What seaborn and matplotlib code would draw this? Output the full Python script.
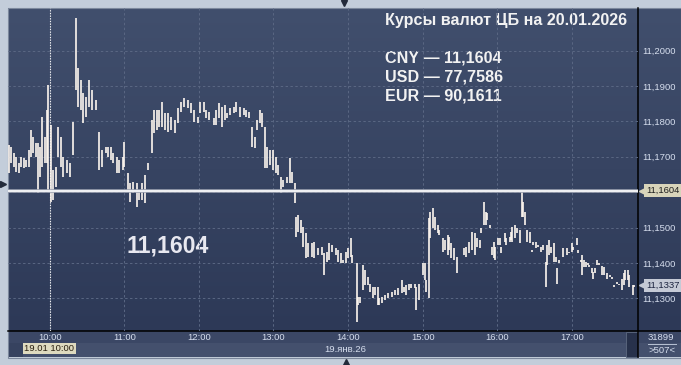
import numpy as np
import pandas as pd
import matplotlib
matplotlib.use("Agg")
import matplotlib.pyplot as plt
from matplotlib.patches import Rectangle
import matplotlib.colors as mcolors
import seaborn as sns

plt.rcParams['font.family'] = ['Liberation Sans', 'DejaVu Sans']

# ---------------- data ----------------
title = "Курсы валют ЦБ на 20.01.2026"
currencies = ["CNY", "USD", "EUR"]
rates = [11.1604, 77.7586, 90.1611]
last_price = 11.1337
cursor_time = "10:00"
cursor_label = "19.01 10:00"
date_label = "19.янв.26"
volume_label = "31899"
count_label = ">507<"

times = [
    "9:27", "9:29", "9:31", "9:33", "9:35", "9:37", "9:39", "9:41", "9:43", "9:45",
    "9:47", "9:49", "9:51", "9:52", "9:54", "9:56", "9:58", "9:59", "10:01", "10:03",
    "10:05", "10:07", "10:09", "10:11", "10:14", "10:16", "10:19", "10:21", "10:23", "10:25",
    "10:27", "10:29", "10:32", "10:34", "10:37", "10:40", "10:42", "10:45", "10:47", "10:49",
    "10:51", "10:54", "10:56", "10:59", "11:00", "11:03", "11:05", "11:07", "11:10", "11:12",
    "11:14", "11:17", "11:19", "11:22", "11:24", "11:26", "11:28", "11:30", "11:33", "11:35",
    "11:38", "11:41", "11:43", "11:46", "11:48", "11:51", "11:54", "11:56", "11:59", "12:01",
    "12:04", "12:06", "12:08", "12:12", "12:14", "12:16", "12:19", "12:21", "12:23", "12:25",
    "12:28", "12:30", "12:33", "12:36", "12:38", "12:40", "12:43", "12:45", "12:47", "12:49",
    "12:51", "12:53", "12:55", "12:57", "13:00", "13:02", "13:04", "13:06", "13:08", "13:11",
    "13:13", "13:15", "13:17", "13:18", "13:20", "13:22", "13:24", "13:26", "13:28", "13:31",
    "13:33", "13:36", "13:39", "13:41", "13:43", "13:45", "13:47", "13:50", "13:52", "13:54",
    "13:56", "13:58", "14:00", "14:02", "14:03", "14:07", "14:08", "14:10", "14:12", "14:14",
    "14:16", "14:18", "14:20", "14:22", "14:24", "14:25", "14:27", "14:30", "14:32", "14:35",
    "14:38", "14:40", "14:43", "14:45", "14:47", "14:49", "14:51", "14:54", "14:55", "14:57",
    "15:00", "15:02", "15:03", "15:05", "15:06", "15:08", "15:10", "15:12", "15:13", "15:16",
    "15:18", "15:20", "15:21", "15:23", "15:25", "15:28", "15:33", "15:35", "15:37", "15:40",
    "15:42", "15:44", "15:46", "15:47", "15:49", "15:51", "15:52", "15:54", "15:56", "15:57",
    "15:58", "16:01", "16:02", "16:03", "16:06", "16:07", "16:10", "16:11", "16:12", "16:14",
    "16:16", "16:18", "16:20", "16:21", "16:22", "16:24", "16:26", "16:28", "16:29", "16:31",
    "16:33", "16:35", "16:37", "16:39", "16:40", "16:42", "16:43", "16:46", "16:47", "16:48",
    "16:50", "16:53", "16:56", "16:58", "17:00", "17:01", "17:04", "17:05", "17:07", "17:08",
    "17:10", "17:11", "17:13", "17:14", "17:16", "17:17", "17:19", "17:20", "17:22", "17:24",
    "17:26", "17:28", "17:31", "17:32", "17:34", "17:36", "17:38", "17:40", "17:42", "17:43",
    "17:45", "17:46", "17:49", "17:50",
]

highs = [
    11.1733, 11.1728, 11.1710, 11.1700, 11.1682, 11.1700, 11.1696, 11.1691, 11.1719, 11.1776,
    11.1757, 11.1738, 11.1738, 11.1728, 11.1813, 11.1757, 11.1832, 11.1903, 11.1790, 11.1663,
    11.1672, 11.1785, 11.1757, 11.1700, 11.1691, 11.1682, 11.1799, 11.2091, 11.1950, 11.1917,
    11.1879, 11.1870, 11.1917, 11.1889, 11.1860, 11.1771, 11.1719, 11.1728, 11.1728, 11.1728,
    11.1710, 11.1700, 11.1691, 11.1700, 11.1743, 11.1653, 11.1625, 11.1630, 11.1625, 11.1606,
    11.1625, 11.1649, 11.1682, 11.1804, 11.1832, 11.1832, 11.1832, 11.1856, 11.1823, 11.1823,
    11.1813, 11.1804, 11.1837, 11.1856, 11.1865, 11.1860, 11.1851, 11.1832, 11.1813, 11.1856,
    11.1856, 11.1832, 11.1827, 11.1809, 11.1832, 11.1851, 11.1842, 11.1846, 11.1823, 11.1837,
    11.1842, 11.1856, 11.1842, 11.1837, 11.1832, 11.1827, 11.1785, 11.1757, 11.1804, 11.1832,
    11.1823, 11.1785, 11.1729, 11.1719, 11.1719, 11.1700, 11.1677, 11.1644, 11.1634, 11.1644,
    11.1696, 11.1658, 11.1625, 11.1531, 11.1536, 11.1521, 11.1503, 11.1484, 11.1456, 11.1456,
    11.1460, 11.1442, 11.1446, 11.1427, 11.1432, 11.1456, 11.1451, 11.1442, 11.1437, 11.1427,
    11.1408, 11.1432, 11.1442, 11.1470, 11.1423, 11.1399, 11.1305, 11.1305, 11.1394, 11.1380,
    11.1361, 11.1342, 11.1333, 11.1333, 11.1333, 11.1300, 11.1305, 11.1310, 11.1314, 11.1319,
    11.1324, 11.1328, 11.1352, 11.1333, 11.1338, 11.1342, 11.1342, 11.1342, 11.1333, 11.1342,
    11.1399, 11.1399, 11.1352, 11.1526, 11.1545, 11.1555, 11.1531, 11.1507, 11.1493, 11.1470,
    11.1465, 11.1479, 11.1474, 11.1456, 11.1442, 11.1418, 11.1442, 11.1446, 11.1460, 11.1488,
    11.1484, 11.1470, 11.1465, 11.1498, 11.1573, 11.1545, 11.1540, 11.1507, 11.1446, 11.1460,
    11.1446, 11.1470, 11.1470, 11.1446, 11.1484, 11.1470, 11.1474, 11.1488, 11.1503, 11.1507,
    11.1498, 11.1493, 11.1601, 11.1573, 11.1545, 11.1493, 11.1488, 11.1437, 11.1460, 11.1460,
    11.1451, 11.1446, 11.1451, 11.1404, 11.1451, 11.1466, 11.1446, 11.1456, 11.1418, 11.1385,
    11.1408, 11.1442, 11.1442, 11.1432, 11.1456, 11.1446, 11.1470, 11.1437, 11.1408, 11.1423,
    11.1408, 11.1404, 11.1399, 11.1394, 11.1385, 11.1375, 11.1385, 11.1408, 11.1399, 11.1391,
    11.1390, 11.1371, 11.1366, 11.1361, 11.1338, 11.1347, 11.1342, 11.1356, 11.1371, 11.1380,
    11.1380, 11.1366, 11.1338, 11.1338,
]

lows = [
    11.1653, 11.1682, 11.1672, 11.1658, 11.1653, 11.1672, 11.1668, 11.1672, 11.1672, 11.1700,
    11.1710, 11.1700, 11.1597, 11.1644, 11.1672, 11.1682, 11.1682, 11.1606, 11.1573, 11.1578,
    11.1616, 11.1700, 11.1672, 11.1644, 11.1653, 11.1644, 11.1705, 11.1889, 11.1842, 11.1832,
    11.1795, 11.1813, 11.1842, 11.1832, 11.1832, 11.1663, 11.1672, 11.1710, 11.1700, 11.1691,
    11.1682, 11.1653, 11.1653, 11.1663, 11.1672, 11.1602, 11.1573, 11.1597, 11.1559, 11.1578,
    11.1578, 11.1569, 11.1663, 11.1710, 11.1766, 11.1776, 11.1785, 11.1785, 11.1776, 11.1771,
    11.1776, 11.1766, 11.1795, 11.1827, 11.1842, 11.1837, 11.1823, 11.1799, 11.1795, 11.1823,
    11.1827, 11.1809, 11.1804, 11.1790, 11.1790, 11.1809, 11.1785, 11.1804, 11.1809, 11.1818,
    11.1823, 11.1827, 11.1813, 11.1818, 11.1813, 11.1809, 11.1729, 11.1724, 11.1776, 11.1795,
    11.1785, 11.1667, 11.1667, 11.1677, 11.1663, 11.1653, 11.1649, 11.1597, 11.1616, 11.1625,
    11.1625, 11.1625, 11.1569, 11.1474, 11.1488, 11.1484, 11.1446, 11.1413, 11.1418, 11.1418,
    11.1413, 11.1423, 11.1423, 11.1366, 11.1404, 11.1408, 11.1432, 11.1423, 11.1404, 11.1399,
    11.1399, 11.1399, 11.1413, 11.1418, 11.1399, 11.1234, 11.1282, 11.1286, 11.1324, 11.1338,
    11.1338, 11.1319, 11.1300, 11.1310, 11.1281, 11.1281, 11.1286, 11.1296, 11.1300, 11.1305,
    11.1310, 11.1310, 11.1314, 11.1319, 11.1310, 11.1324, 11.1328, 11.1328, 11.1267, 11.1295,
    11.1366, 11.1352, 11.1319, 11.1300, 11.1470, 11.1498, 11.1493, 11.1484, 11.1479, 11.1432,
    11.1437, 11.1423, 11.1437, 11.1413, 11.1408, 11.1371, 11.1423, 11.1418, 11.1427, 11.1437,
    11.1423, 11.1446, 11.1442, 11.1484, 11.1507, 11.1507, 11.1521, 11.1498, 11.1423, 11.1413,
    11.1408, 11.1451, 11.1451, 11.1427, 11.1460, 11.1451, 11.1460, 11.1465, 11.1460, 11.1470,
    11.1484, 11.1456, 11.1531, 11.1531, 11.1507, 11.1460, 11.1456, 11.1432, 11.1451, 11.1442,
    11.1446, 11.1432, 11.1437, 11.1333, 11.1394, 11.1423, 11.1427, 11.1404, 11.1404, 11.1342,
    11.1399, 11.1418, 11.1423, 11.1427, 11.1432, 11.1437, 11.1451, 11.1427, 11.1404, 11.1366,
    11.1390, 11.1390, 11.1394, 11.1390, 11.1371, 11.1356, 11.1371, 11.1394, 11.1394, 11.1366,
    11.1366, 11.1356, 11.1361, 11.1356, 11.1333, 11.1342, 11.1338, 11.1324, 11.1338, 11.1352,
    11.1352, 11.1333, 11.1310, 11.1333,
]

hour_ticks = ["10:00", "11:00", "12:00", "13:00", "14:00", "15:00", "16:00", "17:00"]
price_ticks = [11.13, 11.14, 11.15, 11.16, 11.17, 11.18, 11.19, 11.20]
price_tick_labels = ["11,1300", "11,1400", "11,1500", "", "11,1700", "11,1800", "11,1900", "11,2000"]


def to_min(s):
    h, m = s.split(":")
    return int(h) * 60 + int(m)


t_min = [to_min(s) for s in times]
rows = []
for i, (t, lo, hi) in enumerate(zip(t_min, lows, highs)):
    rows.append({"t": t, "price": lo, "bar": i})
    rows.append({"t": t, "price": hi, "bar": i})
df = pd.DataFrame(rows)

# ---------------- figure ----------------
W, H = 681, 365
fig = plt.figure(figsize=(W / 100, H / 100), dpi=100, facecolor="#c3cdda")

bg = fig.add_axes([0, 0, 1, 1])
bg.set_xlim(0, W)
bg.set_ylim(H, 0)
bg.axis("off")

# gradient panel (plot + right axis)
c_top = np.array(mcolors.to_rgb("#414f6d"))
c_bot = np.array(mcolors.to_rgb("#2d3957"))
grad = np.linspace(0, 1, 256)[:, None, None]
img = c_top * (1 - grad) + c_bot * grad
img = np.repeat(img, 2, axis=1)
bg.imshow(img, extent=(8, W, 331, 8), aspect="auto", origin="upper", zorder=1, interpolation="bilinear")

# bottom strip
bg.add_patch(Rectangle((8, 331), W - 8, 12, fc="#3b4765", ec="none", zorder=1))
bg.add_patch(Rectangle((8, 343), W - 8, 14, fc="#44506d", ec="none", zorder=1))
bg.add_patch(Rectangle((8, 343), 15, 14, fc="#36425f", ec="none", zorder=1.1))
bg.add_patch(Rectangle((626, 332), 11.5, 25, fc="#27314b", ec="#58647c", lw=0.7, zorder=1.2))
# outer border
bg.add_patch(Rectangle((7.5, 7.5), W - 7.5, 350, fc="none", ec="#7c889c", lw=0.8, zorder=1.3))
# black separator lines
bg.plot([8, W], [331, 331], color="black", lw=1.1, zorder=2)
bg.plot([638, 638], [8, 357], color="black", lw=1.1, zorder=2)
bg.plot([648, 676], [344, 344], color="#b8c2d4", lw=0.7, zorder=2)

# small marker triangles
bg.plot([344], [3], marker="v", ms=5, color="#222a3a", zorder=3, clip_on=False)
bg.plot([346], [362], marker="^", ms=5, color="#222a3a", zorder=3, clip_on=False)
bg.plot([3], [184], marker=">", ms=4, color="#222a3a", zorder=3, clip_on=False)

# ---------------- main axes ----------------
ax = fig.add_axes([8 / W, (H - 331) / H, 630 / W, 323 / H])
ax.set_facecolor("none")
ax.set_zorder(5)

sns.lineplot(data=df, x="t", y="price", units="bar", estimator=None, sort=False,
             color="#fdf6ef", linewidth=1.2, legend=False, ax=ax, zorder=4)
for ln in ax.get_lines():
    ln.set_solid_capstyle("butt")

ax.set_xlim(566.5, 1073.2)
ax.set_ylim(11.12079, 11.21203)
ax.set_xlabel("")
ax.set_ylabel("")
for s in ax.spines.values():
    s.set_visible(False)

ax.set_xticks([to_min(s) for s in hour_ticks])
ax.set_xticklabels(hour_ticks)
ax.set_yticks(price_ticks)
ax.set_yticklabels(price_tick_labels)
ax.yaxis.tick_right()
ax.tick_params(axis="x", length=0, pad=1.8, labelsize=6.8, labelcolor="#d6deee")
ax.tick_params(axis="y", length=0, pad=3.4, labelsize=6.8, labelcolor="#d6deee")
ax.grid(True, color="#5a6783", lw=0.7, ls=(0, (2.5, 2.5)), zorder=0)
ax.set_axisbelow(True)

# CB rate line
ax.axhline(rates[0], color="#9ea3b2", lw=2.6, zorder=4.5)
ax.axhline(rates[0], color="#ffffff", lw=1.2, zorder=4.6)
# cursor line
ax.axvline(to_min(cursor_time), color="#f4f4f4", lw=0.8, ls=(0, (1.2, 1.2)), zorder=3)

# price tags on the right
ytr = ax.get_yaxis_transform()
for val, fc, tc in [(rates[0], "#d8d4ba", "#1e1e1e"), (last_price, "#c5cad6", "#1c2440")]:
    ax.plot([1 + 4.5 / 630], [val], marker="<", ms=5.5, color=fc, transform=ytr, clip_on=False, zorder=6)
    ax.text(1 + 8 / 630, val, f"{val:.4f}".replace(".", ","), transform=ytr, ha="left", va="center",
            fontsize=6.8, color=tc, zorder=7, clip_on=False,
            bbox=dict(boxstyle="square,pad=0.2", fc=fc, ec="none"))

# ---------------- texts ----------------
bg.text(385, 20.5, title, fontsize=11.6, fontweight="bold", color="#f2f2f2", ha="left", va="center", zorder=6)
for i, (cur, r) in enumerate(zip(currencies, rates)):
    bg.text(385, 57.7 + 19 * i, f"{cur} — {r:.4f}".replace(".", ","), fontsize=11.6, fontweight="bold",
            color="#f2f2f2", ha="left", va="center", zorder=6)
bg.text(126, 245.5, f"{rates[0]:.4f}".replace(".", ","), fontsize=16.6, fontweight="bold",
        color="#e8e8f0", ha="left", va="center", zorder=6)

bg.text(345, 350, date_label, fontsize=6.8, color="#d6deee", ha="center", va="center", zorder=6)
bg.add_patch(Rectangle((22.7, 342.7), 53.3, 11.6, fc="#dedabf", ec="none", zorder=5))
bg.text(49.4, 348.7, cursor_label, fontsize=6.8, color="#2a2010", ha="center", va="center", zorder=6)
bg.text(661, 337, volume_label, fontsize=6.8, color="#d6deee", ha="center", va="center", zorder=6)
bg.text(662, 350.5, count_label, fontsize=6.8, color="#d6deee", ha="center", va="center", zorder=6)

fig.savefig("out.png", dpi=100, facecolor=fig.get_facecolor())
